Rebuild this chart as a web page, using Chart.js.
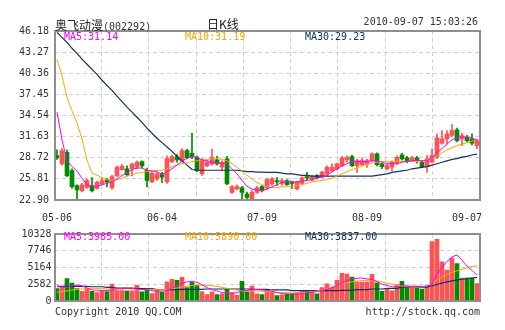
<!DOCTYPE html>
<html>
<head>
<meta charset="utf-8">
<script src="https://cdn.jsdelivr.net/npm/chart.js@4/dist/chart.umd.min.js"></script>
<style>
body { margin: 0; background: #fff; width: 505px; height: 330px; position: relative; overflow: hidden; }
canvas { position: absolute; left: 0; }
.t { position: absolute; font: 10px 'DejaVu Sans Mono', monospace; line-height: 12px; white-space: nowrap; color: #333; }
.cjk { font: 12px 'Noto Sans CJK SC', sans-serif; color: #222; }
</style>
</head>
<body>
<canvas id="kChart" width="505" height="225" style="top:0"></canvas>
<canvas id="volChart" width="505" height="105" style="top:225px"></canvas>

<div class="t" style="left:55px;top:16px"><span class="cjk">奥飞动漫</span>(002292)</div>
<div class="t cjk" style="left:207px;top:15px">日K线</div>
<div class="t" style="right:27px;top:16px">2010-09-07 15:03:26</div>

<div class="t" style="left:64px;top:31px;color:#ff00ff">MA5:31.14</div>
<div class="t" style="left:185px;top:31px;color:#ffa500">MA10:31.19</div>
<div class="t" style="left:305px;top:31px;color:#0d3461">MA30:29.23</div>

<div class="t" style="left:64px;top:231px;color:#ff00ff">MA5:3985.00</div>
<div class="t" style="left:185px;top:231px;color:#ffa500">MA10:5890.00</div>
<div class="t" style="left:305px;top:231px;color:#0d3461">MA30:3837.00</div>

<div class="t" style="left:55px;top:306px">Copyright 2010 QQ.COM</div>
<div class="t" style="right:25px;top:306px">http://stock.qq.com</div>

<script>
// daily candles, 2010-05-06 .. 2010-09-07
const open = [29.02, 27.87, 29.48, 26.95, 24.88, 24.19, 24.65, 24.88, 24.50, 25.11,
  25.71, 24.56, 26.26, 27.09, 27.18, 27.20, 27.41, 28.20, 27.00, 25.43,
  25.80, 26.49, 25.40, 28.19, 28.88, 28.24, 29.71, 29.34, 28.79, 26.49,
  27.64, 27.87, 28.42, 27.41, 28.56, 23.96, 24.42, 24.56, 23.73, 23.04,
  23.96, 24.74, 24.56, 25.11, 25.57, 25.20, 25.57, 25.34, 24.42, 25.20,
  26.12, 25.66, 26.26, 26.03, 26.49, 26.95, 27.18, 27.64, 28.42, 28.88,
  27.64, 27.78, 27.87, 28.33, 29.25, 27.87, 27.18, 27.41, 27.96, 29.11,
  28.70, 28.33, 28.70, 28.10, 27.50, 28.10, 28.79, 30.72, 31.32, 31.78,
  32.56, 31.32, 31.55, 31.32, 30.40];
const high = [29.8, 30.0, 29.8, 27.2, 25.0, 25.2, 25.8, 26.0, 25.5, 26.0,
  25.9, 26.3, 27.6, 27.8, 27.6, 28.0, 28.3, 28.3, 27.3, 26.8,
  26.7, 26.7, 29.0, 29.1, 29.2, 30.0, 29.9, 32.1, 29.0, 28.6,
  28.4, 29.9, 28.9, 28.3, 28.9, 24.9, 25.0, 24.8, 24.0, 24.2,
  24.8, 24.9, 25.9, 26.0, 26.0, 25.8, 25.7, 25.5, 25.5, 26.1,
  26.7, 26.3, 26.4, 26.9, 27.6, 27.87, 28.0, 28.9, 29.0, 29.1,
  28.5, 28.7, 28.5, 29.4, 29.4, 28.0, 27.9, 28.3, 29.0, 29.34,
  28.9, 28.9, 28.9, 28.3, 29.02, 29.94, 32.0, 32.47, 32.47, 33.3,
  32.8, 32.1, 31.8, 32.0, 31.3];
const low = [28.5, 27.7, 26.1, 24.5, 23.0, 24.0, 24.5, 24.0, 24.4, 25.0,
  24.7, 24.4, 26.1, 27.0, 26.2, 26.2, 27.2, 27.3, 24.7, 25.3,
  25.6, 25.3, 25.2, 28.0, 28.1, 28.1, 28.6, 28.6, 26.8, 26.3,
  27.5, 27.7, 27.7, 26.9, 25.0, 23.8, 24.3, 22.9, 23.1, 22.95,
  23.8, 24.0, 24.4, 24.9, 24.9, 24.9, 24.9, 24.5, 24.3, 25.1,
  25.6, 25.5, 25.8, 25.9, 26.3, 26.72, 27.0, 27.5, 28.1, 27.5,
  26.7, 27.6, 27.4, 28.2, 27.6, 27.2, 27.0, 26.9, 27.8, 28.4,
  28.0, 28.2, 27.96, 27.4, 26.7, 28.0, 28.6, 30.6, 30.6, 31.6,
  30.9, 30.4, 30.9, 30.5, 29.94];
const close = [28.70, 29.71, 26.26, 24.74, 24.28, 25.00, 25.57, 24.19, 25.34, 25.57,
  25.34, 26.12, 27.41, 27.55, 26.40, 27.80, 28.10, 27.60, 25.60, 26.58,
  26.50, 26.03, 28.60, 28.88, 28.42, 29.71, 28.70, 28.79, 26.95, 28.42,
  28.10, 28.79, 27.87, 28.10, 25.11, 24.74, 24.74, 23.96, 23.27, 23.96,
  24.56, 24.19, 25.71, 25.80, 25.40, 25.57, 25.00, 25.20, 25.34, 25.94,
  25.94, 26.12, 25.94, 26.72, 27.41, 27.41, 27.87, 28.70, 28.79, 27.64,
  28.33, 28.33, 28.33, 29.25, 27.78, 27.50, 27.64, 28.10, 28.79, 28.56,
  28.19, 28.70, 28.33, 27.50, 28.56, 29.02, 31.46, 31.32, 32.01, 32.47,
  31.09, 31.78, 31.09, 30.72, 31.09];

const ma5 = [35.0, 31.2, 28.3, 27.5, 26.9, 25.9, 25.0, 24.8, 24.8, 25.0,
  25.2, 25.4, 25.8, 26.3, 26.6, 27.1, 27.3, 27.3, 27.0, 26.9,
  26.8, 26.4, 26.8, 27.2, 27.7, 28.3, 28.6, 28.9, 28.8, 28.4,
  28.3, 28.1, 28.0, 28.0, 27.9, 27.2, 26.5, 25.6, 24.8, 24.4,
  24.3, 24.2, 24.4, 24.7, 25.0, 25.3, 25.4, 25.4, 25.4, 25.5,
  25.6, 25.7, 25.9, 26.1, 26.3, 26.8, 27.2, 27.6, 27.9, 28.2,
  28.2, 28.2, 28.2, 28.3, 28.3, 28.1, 27.9, 27.9, 27.9, 28.1,
  28.2, 28.3, 28.4, 28.3, 28.3, 28.7, 29.4, 30.0, 30.6, 31.2,
  31.5, 31.6, 31.6, 31.4, 31.14];
const ma10 = [42.3, 40.0, 37.0, 35.2, 33.5, 31.3, 28.4, 26.6, 26.3, 26.0,
  25.7, 25.6, 25.7, 25.9, 26.2, 26.4, 26.6, 26.7, 26.8, 26.9,
  27.0, 27.0, 27.2, 27.5, 27.7, 27.9, 28.0, 28.2, 28.3, 28.4,
  28.5, 28.6, 28.6, 28.5, 28.3, 27.9, 27.4, 26.9, 26.3, 25.8,
  25.3, 25.0, 24.7, 24.6, 24.6, 24.7, 24.8, 24.8, 24.9, 25.0,
  25.2, 25.4, 25.5, 25.6, 25.7, 25.9, 26.2, 26.5, 26.8, 27.1,
  27.3, 27.6, 27.8, 28.0, 28.1, 28.2, 28.2, 28.2, 28.2, 28.2,
  28.2, 28.2, 28.2, 28.3, 28.4, 28.6, 29.0, 29.4, 29.8, 30.1,
  30.4, 30.6, 30.8, 31.0, 31.19];
const ma30 = [46.0, 45.3, 44.6, 43.8, 43.1, 42.3, 41.6, 40.9, 40.2, 39.4,
  38.7, 38.0, 37.2, 36.45, 35.7, 35.0, 34.3, 33.6, 32.8, 32.1,
  31.4, 30.8, 30.2, 29.6, 28.9, 28.3, 27.7, 27.1, 27.0, 27.0,
  27.0, 27.0, 27.0, 27.0, 27.0, 27.0, 27.0, 26.9, 26.8, 26.8,
  26.75, 26.75, 26.7, 26.7, 26.7, 26.6, 26.5, 26.5, 26.4, 26.3,
  26.3, 26.2, 26.2, 26.2, 26.2, 26.2, 26.2, 26.2, 26.2, 26.2,
  26.2, 26.2, 26.2, 26.2, 26.3, 26.4, 26.5, 26.7, 26.8, 26.9,
  27.0, 27.2, 27.3, 27.4, 27.5, 27.7, 27.9, 28.1, 28.3, 28.5,
  28.6, 28.8, 28.9, 29.1, 29.23];

const volume = [1900, 2150, 3450, 2750, 1900, 1500, 2000, 1500, 1300, 1500,
  1450, 2600, 1650, 1700, 1500, 1500, 2400, 1400, 1850, 1150,
  1600, 1350, 2950, 3350, 3200, 3650, 2050, 2900, 2400, 1450,
  1000, 1400, 1000, 1100, 1850, 1250, 880, 3050, 1400, 2300,
  1100, 1000, 1650, 1350, 850, 950, 1100, 1150, 1300, 1550,
  1650, 1550, 1100, 2050, 2650, 2100, 3200, 4250, 4150, 3700,
  2900, 2900, 2900, 4100, 2800, 1500, 1900, 1550, 2550, 3050,
  2300, 2300, 2300, 1850, 2300, 9150, 9500, 6050, 4750, 6600,
  5750, 3550, 3550, 3550, 2700];
const volMa5 = [2200, 2150, 2100, 2350, 2450, 2350, 2000, 1700, 1650, 1600,
  1650, 1700, 1900, 1950, 1950, 1950, 1850, 1750, 1750, 1600,
  1550, 1500, 1650, 2000, 2350, 2750, 2950, 3000, 2900, 2500,
  2050, 1750, 1550, 1300, 1250, 1250, 1250, 1600, 1600, 1800,
  1750, 1700, 1650, 1500, 1300, 1150, 1050, 1050, 1050, 1150,
  1250, 1350, 1450, 1600, 1800, 2050, 2400, 2800, 3150, 3400,
  3500, 3550, 3400, 3300, 3000, 2600, 2400, 2200, 2200, 2350,
  2300, 2250, 2250, 2250, 2300, 2600, 4200, 5200, 6100, 6800,
  7100, 6300, 5400, 4700, 3985];
const volMa10 = [1350, 1450, 1550, 1700, 1800, 1850, 1900, 1950, 1950, 1900,
  1850, 1750, 1700, 1650, 1650, 1650, 1700, 1750, 1800, 1800,
  1750, 1750, 1800, 1900, 2000, 2150, 2300, 2400, 2450, 2450,
  2400, 2350, 2250, 2100, 1950, 1800, 1650, 1550, 1500, 1550,
  1550, 1500, 1450, 1400, 1350, 1300, 1300, 1250, 1250, 1300,
  1350, 1450, 1550, 1700, 1900, 2150, 2400, 2650, 2850, 2950,
  3050, 3150, 3150, 3100, 3050, 2950, 2750, 2600, 2450, 2300,
  2200, 2150, 2150, 2200, 2300, 2600, 3200, 3700, 4100, 4400,
  4650, 4900, 5100, 5300, 5450];
const volMa30 = [2300, 2250, 2250, 2250, 2250, 2250, 2250, 2200, 2200, 2200,
  2100, 2100, 2000, 2000, 2000, 2000, 1900, 1900, 1900, 1900,
  1750, 1750, 1750, 1750, 1750, 1800, 1800, 1800, 1800, 1800,
  1850, 1850, 1850, 1850, 1850, 1850, 1850, 1850, 1850, 1800,
  1800, 1800, 1800, 1700, 1700, 1700, 1700, 1600, 1600, 1600,
  1600, 1600, 1600, 1600, 1600, 1600, 1600, 1650, 1650, 1650,
  1750, 1750, 1750, 1850, 1850, 1850, 1950, 1950, 1950, 2150,
  2150, 2150, 2150, 2150, 2150, 2350, 2550, 2750, 2950, 3100,
  3250, 3350, 3450, 3550, 3650];

const priceTicks = [22.90, 25.81, 28.72, 31.63, 34.54, 37.45, 40.36, 43.27, 46.18];
const volTicks = [0, 2582, 5164, 7746, 10328];
const dateTicks = {0: '05-06', 21: '06-04', 41: '07-09', 62: '08-09', 82: '09-07'};

const UP = '#ff5252', DOWN = '#008c00';
const MA5C = '#ff00ff', MA10C = '#ffa500', MA30C = '#0d3461';
const GRID = '#d2d2d2';
const FONT = {family: "'DejaVu Sans Mono', monospace", size: 10};

const labels = close.map((_, i) => dateTicks[i] || '');
const colors = close.map((c, i) => c >= open[i] ? UP : DOWN);

// plot frame
const frame = {
  id: 'frame',
  afterDraw(c) {
    const a = c.chartArea, ctx = c.ctx;
    ctx.save();
    ctx.strokeStyle = '#8e8e8e';
    ctx.lineWidth = 2;
    ctx.strokeRect(Math.round(a.left), Math.round(a.top), Math.round(a.right) - Math.round(a.left), Math.round(a.bottom) - Math.round(a.top));
    ctx.restore();
  }
};

// 8 dashed vertical divisions
function gridAxis() {
  return {
    type: 'linear', min: 0, max: 8, position: 'bottom',
    ticks: {display: false, stepSize: 1},
    grid: {color: GRID, drawTicks: false},
    border: {display: false, dash: [4, 3]},
    afterFit: s => { s.height = 0; }
  };
}

function maLine(data, color, w) {
  return {type: 'line', data: data, borderColor: color, borderWidth: w, pointRadius: 0,
    fill: false, tension: 0, order: 0, xAxisID: 'x', yAxisID: 'y'};
}

new Chart(document.getElementById('kChart'), {
  type: 'bar',
  data: {
    labels: labels,
    datasets: [
      maLine(ma5, MA5C, 1),
      maLine(ma10, MA10C, 1),
      maLine(ma30, MA30C, 1.2),
      {data: open.map((o, i) => [o, close[i]]), backgroundColor: colors, barThickness: 4,
        minBarLength: 1, grouped: false, order: 1, xAxisID: 'x', yAxisID: 'y'},
      {data: low.map((l, i) => [l, high[i]]), backgroundColor: colors, barThickness: 1,
        grouped: false, order: 2, xAxisID: 'x', yAxisID: 'y'}
    ]
  },
  options: {
    responsive: false,
    animation: false,
    layout: {padding: {left: 0, right: 25.5, top: 31, bottom: 0}},
    plugins: {legend: {display: false}, tooltip: {enabled: false}},
    scales: {
      x: {
        type: 'category',
        grid: {display: false},
        border: {display: false},
        ticks: {autoSkip: false, maxRotation: 0, minRotation: 0, padding: 4, color: '#333', font: FONT},
        afterFit: s => { s.height = 25; }
      },
      xg: gridAxis(),
      y: {
        min: 22.90, max: 46.18,
        afterBuildTicks: s => { s.ticks = priceTicks.map(v => ({value: v})); },
        ticks: {callback: v => v.toFixed(2), padding: 5.5, color: '#333', font: FONT},
        grid: {color: GRID, drawTicks: false},
        border: {display: false, dash: [4, 3]},
        afterFit: s => { s.width = 54.5; }
      }
    }
  },
  plugins: [frame]
});

new Chart(document.getElementById('volChart'), {
  type: 'bar',
  data: {
    labels: labels,
    datasets: [
      maLine(volMa5, MA5C, 1),
      maLine(volMa10, MA10C, 1),
      maLine(volMa30, MA30C, 1.2),
      {data: volume, backgroundColor: colors, barThickness: 4, grouped: false, order: 1,
        xAxisID: 'x', yAxisID: 'y'}
    ]
  },
  options: {
    responsive: false,
    animation: false,
    layout: {padding: {left: 0, right: 25.5, top: 6, bottom: 29}},
    plugins: {legend: {display: false}, tooltip: {enabled: false}},
    scales: {
      x: {type: 'category', display: false},
      xg: gridAxis(),
      y: {
        min: 0, max: 10328,
        afterBuildTicks: s => { s.ticks = volTicks.map(v => ({value: v})); },
        ticks: {callback: v => String(v), padding: 3, color: '#333', font: FONT},
        grid: {color: GRID, drawTicks: false},
        border: {display: false, dash: [4, 3]},
        afterFit: s => { s.width = 54.5; }
      }
    }
  },
  plugins: [frame]
});
</script>
</body>
</html>
